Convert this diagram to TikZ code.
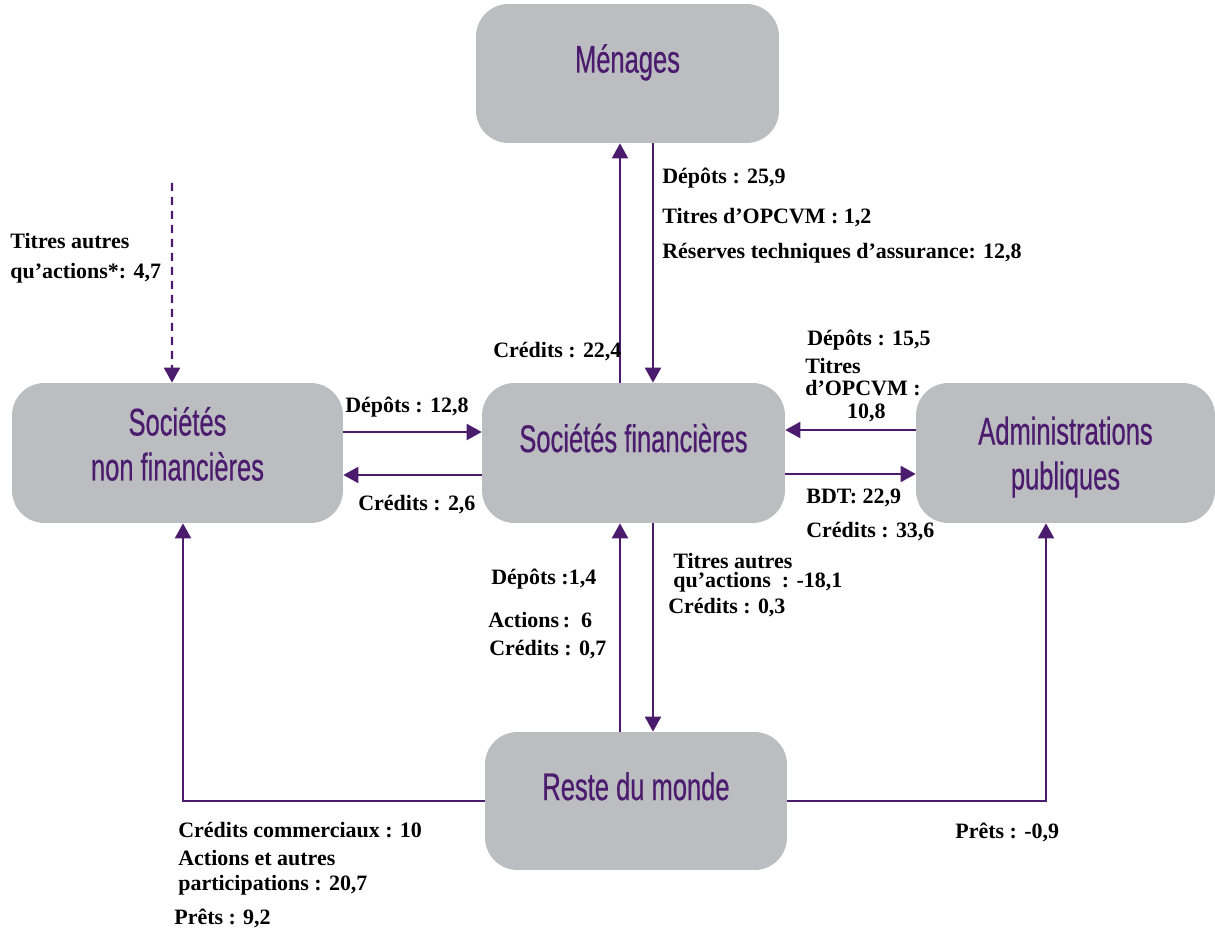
\documentclass[tikz,border=0pt]{standalone}
\usepackage{fontspec}
\setmainfont{Liberation Serif}
\newfontfamily\boxfont[FakeStretch=0.66,FakeBold=0.5]{Liberation Sans}
\usetikzlibrary{positioning,arrows.meta,calc}
\definecolor{flowpurple}{HTML}{4B1C6E}
\definecolor{boxgray}{HTML}{BCBDC1}

\begin{document}
\begin{tikzpicture}[
    x=0.02cm, y=-0.02cm,
    sector/.style={fill=boxgray, rounded corners=0.65cm, minimum height=2.8cm, align=center, text=flowpurple, font=\boxfont\fontsize{22}{25.6}\selectfont},
    oneline/.style={text height=16pt, text depth=17pt},
    arr/.style={-{Triangle[length=0.3cm,width=0.32cm]}, line width=1.2pt, flowpurple},
    lbl/.style={font=\fontsize{12.5}{15}\selectfont\bfseries, inner sep=0pt, anchor=west, align=left},
]
\useasboundingbox (0,0) rectangle (1215,932);

% Sectors
\node[sector, oneline, minimum width=6.06cm, minimum height=2.78cm] (men) at (627.5,73.5) {Ménages};
\node[sector, minimum width=6.62cm, text depth=10.5pt] (snf) at (177.5,453) {Sociétés\\non financières};
\node[sector, oneline, minimum width=6.06cm] (sf) at (633.5,453) {Sociétés financières};
\node[sector, minimum width=5.98cm, text depth=0pt] (ap) at (1065.5,453) {Administrations\\publiques};
\node[sector, oneline, minimum width=6.04cm, minimum height=2.76cm] (rdm) at (636,801) {Reste du monde};
\coordinate (ext) at (172,183);

% Flows with Ménages
\draw[arr] ([xshift=-0.27cm]sf.north) -- ([xshift=-0.27cm]sf.north |- men.south);
\draw[arr] ([xshift=0.39cm]sf.north |- men.south) -- ([xshift=0.39cm]sf.north);

% Flows with non-financial firms
\draw[arr] ([yshift=0.42cm]snf.east) -- ([yshift=0.42cm]sf.west);
\draw[arr] ([yshift=-0.44cm]sf.west) -- ([yshift=-0.44cm]snf.east);
\draw[arr, dash pattern=on 0.16cm off 0.12cm] (ext) -- ([xshift=-0.11cm]snf.north);

% Flows with public administrations
\draw[arr] ([yshift=0.46cm]ap.west) -- ([yshift=0.46cm]sf.east);
\draw[arr] ([yshift=-0.42cm]sf.east) -- ([yshift=-0.42cm]ap.west);

% Flows with rest of the world
\draw[arr] ([xshift=-0.27cm]sf.south |- rdm.north) -- ([xshift=-0.27cm]sf.south);
\draw[arr] ([xshift=0.39cm]sf.south) -- ([xshift=0.39cm]sf.south |- rdm.north);
\draw[arr] (rdm.west) -| ([xshift=0.11cm]snf.south);
\draw[arr] (rdm.east) -| ([xshift=-0.39cm]ap.south);

% Labels
\node[lbl, font=\fontsize{12.5}{17}\selectfont\bfseries] (t47) at (10,258) {Titres autres\\qu’actions*: 4,7};
\node[lbl] (dep128) at (345,407) {Dépôts : 12,8};
\node[lbl] (cre26) at (358,505) {Crédits : 2,6};
\node[lbl] (cre224) at (493,352) {Crédits : 22,4};
\node[lbl] (dep259) at (662,178) {Dépôts : 25,9};
\node[lbl] (opc12) at (662,218) {Titres d’OPCVM : 1,2};
\node[lbl] (res128) at (662,253) {Réserves techniques d’assurance: 12,8};
\node[lbl] (dep155) at (807,340) {Dépôts : 15,5};
\node[lbl, font=\fontsize{12.5}{12.8}\selectfont\bfseries] (opc108) at (805,390) {Titres\\d’OPCVM :\\\hspace*{1.9em}10,8};
\node[lbl] (bdt) at (806,498) {BDT: 22,9};
\node[lbl] (cre336) at (806,532) {Crédits : 33,6};
\node[lbl] (dep14) at (491,579) {Dépôts :1,4};
\node[lbl] (act6) at (488,620) {Actions\,:~~6};
\node[lbl] (cre07) at (489,650) {Crédits : 0,7};
\node[lbl, font=\fontsize{12.5}{11}\selectfont\bfseries] (t181) at (673,573) {Titres autres\\qu’actions~ : -18,1};
\node[lbl] (cre03) at (668,608) {Crédits : 0,3};
\node[lbl] (crecom) at (178,830) {Crédits commerciaux : 10};
\node[lbl, font=\fontsize{12.5}{14}\selectfont\bfseries] (actpart) at (178,873) {Actions et autres\\participations : 20,7};
\node[lbl] (pre92) at (174,918) {Prêts : 9,2};
\node[lbl] (pre09) at (955,832) {Prêts : -0,9};

\end{tikzpicture}
\end{document}
